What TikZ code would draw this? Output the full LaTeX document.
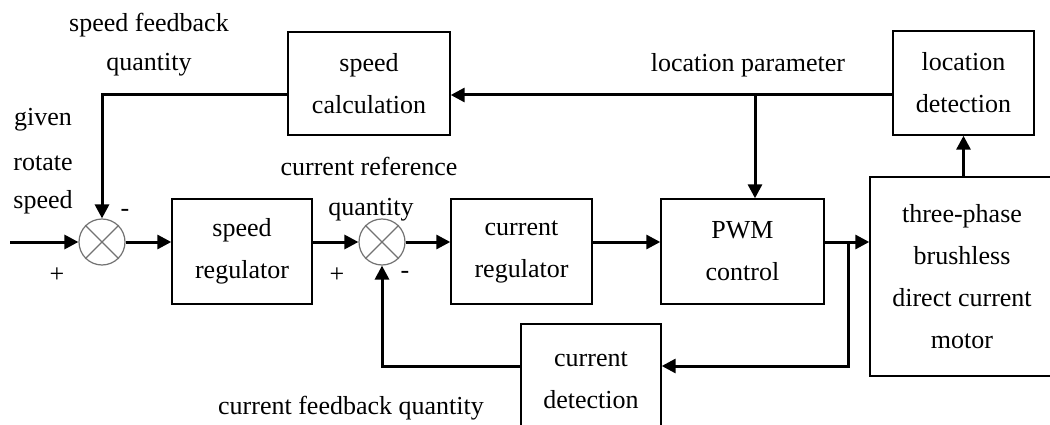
\documentclass[tikz,border=0pt]{standalone}
\usepackage{fontspec}
\setmainfont{Liberation Serif}[Ligatures=TeX]
\newfontfamily\diagfont{Liberation Serif}
\usetikzlibrary{arrows.meta,calc}
\begin{document}
\begin{tikzpicture}[x=1pt,y=-1pt,
  font=\diagfont\fontsize{26}{42}\selectfont,
  blk/.style={draw,line width=1.4pt,align=center,inner sep=0pt,minimum width=#1},
  sumj/.style={circle,draw=black!55,line width=1.2pt,minimum size=46pt,inner sep=0pt},
  sig/.style={line width=3pt,-{Triangle[length=14pt,width=14pt]}},
  lbl/.style={inner sep=0pt,align=center}]
\useasboundingbox[fill=white] (0,0) rectangle (1050,425);

% blocks
\node[blk=162pt,minimum height=103pt] (scalc) at (369,83.5) {speed\\calculation};
\node[blk=141pt,minimum height=104pt] (locdet) at (963.5,83) {location\\detection};
\node[blk=140pt,minimum height=105pt] (sreg) at (242,251.5) {speed\\regulator};
\node[blk=141pt,minimum height=105pt] (creg) at (521.5,251.5) {current\\regulator};
\node[blk=163pt,minimum height=105pt] (pwm) at (742.5,251.5) {PWM\\control};
\node[blk=184pt,minimum height=199pt] (motor) at (962,276.5) {three-phase\\brushless\\direct current\\motor};
\node[blk=140pt,minimum height=112pt] (cdet) at (591,380) {current\\detection};

% summing junctions
\node[sumj] (s1) at (102,242) {};
\node[sumj] (s2) at (382,242) {};
\foreach \s in {s1,s2}{
  \draw[black!55,line width=1.2pt] (\s.north west) -- (\s.south east);
  \draw[black!55,line width=1.2pt] (\s.north east) -- (\s.south west);
}

% helper coordinates
\coordinate (in) at (10,242);
\coordinate (fbs) at (102,95);
\coordinate (lp) at (755,95);
\coordinate (br) at (848,242);
\coordinate (brd) at (848,366);
\coordinate (cfb) at (382,366);

% forward path
\draw[sig] (in) -- (s1.west);
\draw[sig] (s1.east) -- (s1.east -| sreg.west);
\draw[sig] (s1.east -| sreg.east) -- (s2.west);
\draw[sig] (s2.east) -- (s2.east -| creg.west);
\draw[sig] (s2.east -| creg.east) -- (s2.east -| pwm.west);
\draw[sig] (s2.east -| pwm.east) -- (s2.east -| motor.west);

% location feedback
\draw[sig] (locdet.south |- motor.north) -- (locdet.south);
\draw[sig] (fbs -| locdet.west) -- (fbs -| scalc.east);
\draw[sig] (lp) -- (lp |- pwm.north);
\draw[sig] (fbs -| scalc.west) -- (fbs) -- (s1.north);

% current feedback
\draw[sig] (br) -- (brd) -- (brd -| cdet.east);
\draw[sig] (brd -| cdet.west) -- (cfb) -- (s2.south);

% labels
\node[lbl] (t1) at (149,25) {speed feedback};
\node[lbl] (t2) at (149,65) {quantity};
\node[lbl] (t3) at (43,120) {given};
\node[lbl] (t4) at (43,163) {rotate};
\node[lbl] (t5) at (43,202) {speed};
\node[lbl] (m1) at (125,213) {-};
\node[lbl] (p1) at (57,275) {+};
\node[lbl] (t6) at (369,166) {current reference};
\node[lbl] (t7) at (371,210) {quantity};
\node[lbl] (p2) at (337,275) {+};
\node[lbl] (m2) at (405,275) {-};
\node[lbl] (t8) at (351,408) {current feedback quantity};
\node[lbl] (t9) at (748,65) {location parameter};
\end{tikzpicture}
\end{document}
